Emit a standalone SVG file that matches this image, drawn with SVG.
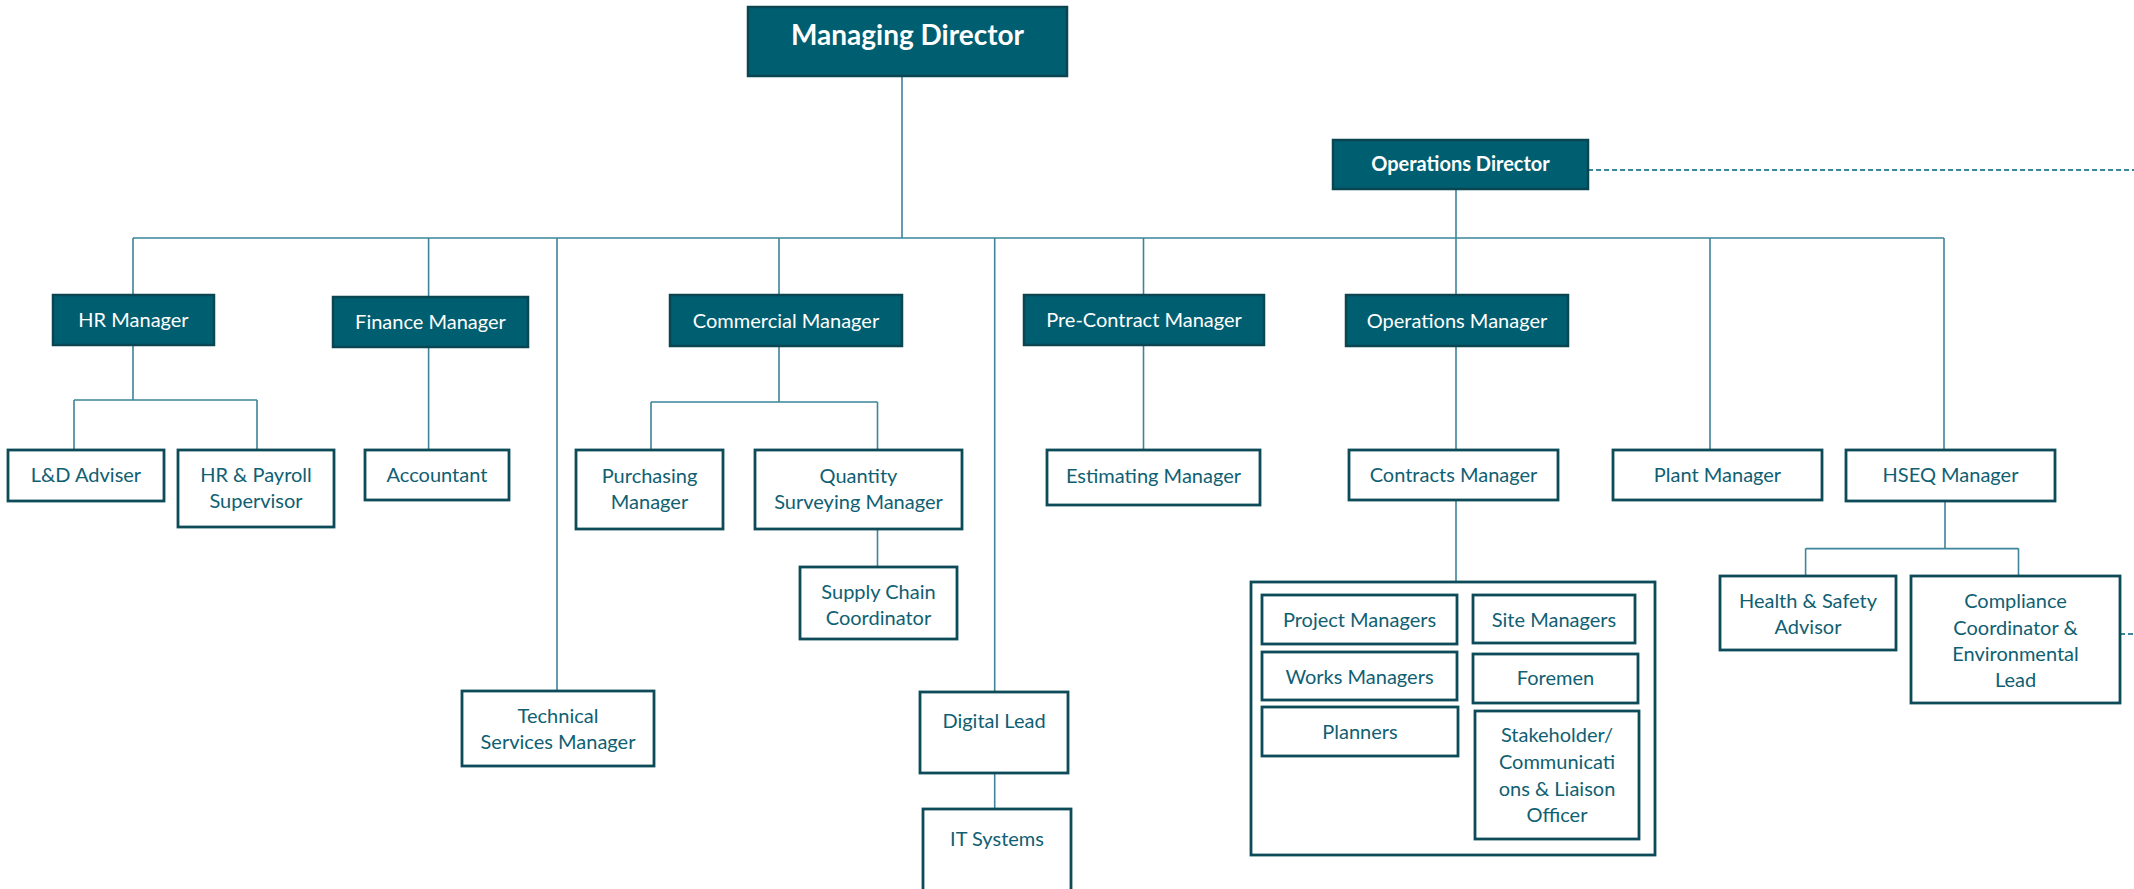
<svg xmlns="http://www.w3.org/2000/svg" width="2134" height="889" viewBox="0 0 2134 889">
<style>
.dk rect{fill:#005E71;stroke:#0A4552;stroke-width:2.5}
.wt rect{fill:#FFFFFF;stroke:#0D4B59;stroke-width:2.8}
.frame{fill:#FFFFFF;stroke:#0D4B59;stroke-width:2.8}
text{font-family:Lato,"Open Sans","Liberation Sans",sans-serif;font-size:20px;text-anchor:middle}
.dk text{fill:#FFFFFF}
.wt text{fill:#0F6072}
.b{font-weight:bold}
#connectors path{fill:none;stroke:#3D8599;stroke-width:1.6}
#connectors path.dash{stroke-dasharray:5 3;stroke-width:2}
</style>
<rect width="2134" height="889" fill="#FFFFFF"/>
<g id="connectors">
<path d="M902 76V238M133 238H1944"/>
<path d="M133 238V295M428.6 238V297M557 238V691M779 238V295M994.7 238V692M1143.5 238V295M1456 189V295M1710 238V450M1944 238V450"/>
<path d="M133 345V400M74 400H257M74 400V450M257 400V450"/>
<path d="M428.6 347V450"/>
<path d="M779 346V402M651 402H877.5M651 402V450M877.5 402V450"/>
<path d="M877.5 529V567"/>
<path d="M994.7 773V809"/>
<path d="M1143.5 345V450"/>
<path d="M1456 346V450M1456 500V582"/>
<path d="M1945 501V548.6M1805.6 548.6H2018.5M1805.6 548.6V576M2018.5 548.6V576"/>
<path class="dash" d="M1588 170H2134"/>
<path class="dash" d="M2120 634H2134"/>
</g>
<g id="managing-director" class="dk"><rect x="748" y="7" width="319" height="69"/><text class="b" x="907.5" y="45" style="font-size:28px">Managing Director</text></g>
<g id="operations-director" class="dk"><rect x="1333" y="140" width="255" height="49"/><text class="b" x="1460.5" y="171">Operations Director</text></g>
<g id="hr-manager" class="dk"><rect x="53" y="295" width="161" height="50"/><text x="133.5" y="327">HR Manager</text></g>
<g id="finance-manager" class="dk"><rect x="333" y="297" width="195" height="50"/><text x="430.5" y="329">Finance Manager</text></g>
<g id="commercial-manager" class="dk"><rect x="670" y="295" width="232" height="51"/><text x="786" y="328">Commercial Manager</text></g>
<g id="pre-contract-manager" class="dk"><rect x="1024" y="295" width="240" height="50"/><text x="1144" y="327">Pre-Contract Manager</text></g>
<g id="operations-manager" class="dk"><rect x="1346" y="295" width="222" height="51"/><text x="1457" y="328">Operations Manager</text></g>
<g id="ld-adviser" class="wt"><rect x="8" y="450" width="156" height="51"/><text x="86" y="482">L&amp;D Adviser</text></g>
<g id="hr-payroll" class="wt"><rect x="178" y="450" width="156" height="77"/><text x="256" y="482">HR &amp; Payroll</text><text x="256" y="508">Supervisor</text></g>
<g id="accountant" class="wt"><rect x="365" y="450" width="144" height="50"/><text x="437" y="482">Accountant</text></g>
<g id="purchasing-manager" class="wt"><rect x="576" y="450" width="147" height="79"/><text x="649.5" y="483">Purchasing</text><text x="649.5" y="509">Manager</text></g>
<g id="qs-manager" class="wt"><rect x="755" y="450" width="207" height="79"/><text x="858.5" y="483">Quantity</text><text x="858.5" y="509">Surveying Manager</text></g>
<g id="supply-chain" class="wt"><rect x="800" y="567" width="157" height="72"/><text x="878.5" y="599">Supply Chain</text><text x="878.5" y="625">Coordinator</text></g>
<g id="technical-services" class="wt"><rect x="462" y="691" width="192" height="75"/><text x="558" y="722.5">Technical</text><text x="558" y="749">Services Manager</text></g>
<g id="digital-lead" class="wt"><rect x="920" y="692" width="148" height="81"/><text x="994" y="728">Digital Lead</text></g>
<g id="it-systems" class="wt"><rect x="923" y="809" width="148" height="90"/><text x="997" y="846">IT Systems</text></g>
<g id="estimating-manager" class="wt"><rect x="1047" y="450" width="213" height="55"/><text x="1153.5" y="483">Estimating Manager</text></g>
<g id="contracts-manager" class="wt"><rect x="1349" y="450" width="209" height="50"/><text x="1453.5" y="482">Contracts Manager</text></g>
<g id="plant-manager" class="wt"><rect x="1613" y="450" width="209" height="50"/><text x="1717.5" y="482">Plant Manager</text></g>
<g id="hseq-manager" class="wt"><rect x="1846" y="450" width="209" height="51"/><text x="1950.5" y="482">HSEQ Manager</text></g>
<g id="health-safety" class="wt"><rect x="1720" y="576" width="176" height="74"/><text x="1808" y="608">Health &amp; Safety</text><text x="1808" y="634">Advisor</text></g>
<g id="compliance" class="wt"><rect x="1911" y="576" width="209" height="127"/><text x="2015.5" y="608">Compliance</text><text x="2015.5" y="635">Coordinator &amp;</text><text x="2015.5" y="661">Environmental</text><text x="2015.5" y="687">Lead</text></g>
<g id="site-team" class="wt">
<rect class="frame" x="1251" y="582" width="404" height="273"/>
<g id="project-managers"><rect x="1262" y="595" width="195" height="49"/><text x="1359.5" y="627">Project Managers</text></g>
<g id="site-managers"><rect x="1473" y="595" width="162" height="48"/><text x="1554" y="627">Site Managers</text></g>
<g id="works-managers"><rect x="1262" y="652" width="195" height="48"/><text x="1359.5" y="684">Works Managers</text></g>
<g id="foremen"><rect x="1473" y="654" width="165" height="49"/><text x="1555.5" y="685">Foremen</text></g>
<g id="planners"><rect x="1262" y="707" width="196" height="49"/><text x="1360" y="739">Planners</text></g>
<g id="stakeholder"><rect x="1475" y="711" width="164" height="128"/><text x="1557" y="742">Stakeholder/</text><text x="1557" y="769">Communicati</text><text x="1557" y="796">ons &amp; Liaison</text><text x="1557" y="822">Officer</text></g>
</g>
</svg>
